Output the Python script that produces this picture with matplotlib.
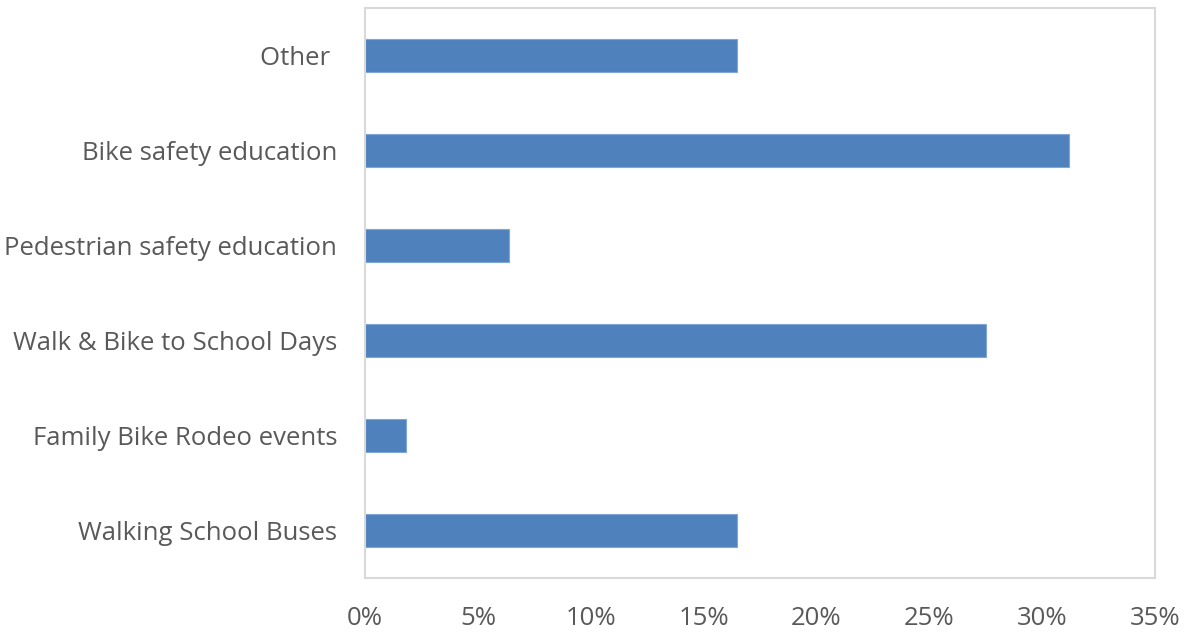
import matplotlib
matplotlib.use("Agg")
import matplotlib.pyplot as plt
from matplotlib.ticker import FuncFormatter

categories = ["Walking School Buses", "Family Bike Rodeo events", "Walk & Bike to School Days",
              "Pedestrian safety education", "Bike safety education", "Other "]
values = [16.5, 1.8, 27.5, 6.4, 31.2, 16.5]
xticks = [0, 5, 10, 15, 20, 25, 30, 35]

plt.rcParams['font.family'] = ['Open Sans', 'DejaVu Sans']
fig = plt.figure(figsize=(11.86, 6.33), dpi=100)
ax = fig.add_axes([365/1186, 1-578/633, (1155-365)/1186, (578-8)/633])

ax.barh(range(len(categories)), values, height=0.35, color="#4F81BD",
        edgecolor="#7FA6D6", linewidth=0.8)
ax.set_xlim(0, 35)
ax.set_ylim(-0.5, len(categories)-0.5)
ax.set_xticks(xticks)
ax.xaxis.set_major_formatter(FuncFormatter(lambda v, p: f"{v:.0f}%"))
ax.set_yticks(range(len(categories)))
ax.set_yticklabels(categories)
ax.tick_params(axis='both', length=0, labelsize=18.5, labelcolor="#595959")
ax.tick_params(axis='x', pad=20)
ax.tick_params(axis='y', pad=20)
for s in ax.spines.values():
    s.set_color("#D9D9D9")
    s.set_linewidth(1.5)

fig.savefig("out.png", dpi=100)
